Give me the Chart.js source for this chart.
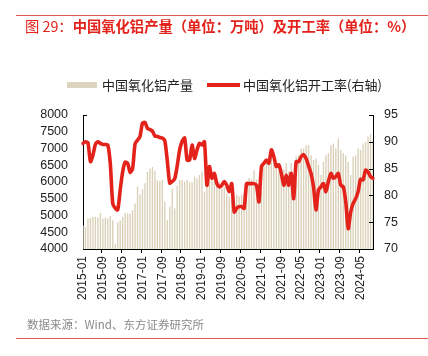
<!DOCTYPE html>
<html><head><meta charset="utf-8">
<script src="https://cdn.jsdelivr.net/npm/chart.js@4"></script>
<style>
html,body{margin:0;padding:0;background:#fff;}
#wrap{position:relative;width:428px;height:356px;overflow:hidden;font-family:"Noto Sans CJK SC","Liberation Sans",Arial,sans-serif;}
canvas{position:absolute;left:0;top:0;}
.hline{position:absolute;left:16px;width:412px;height:1px;background:#E55A50;}
#title{position:absolute;left:25px;top:17px;font-size:14.3px;line-height:18px;color:#E3231B;white-space:nowrap;font-weight:bold;}
#title .p{font-weight:normal;}
#legend{position:absolute;top:76px;left:0;width:428px;height:18px;font-size:13px;line-height:18px;color:#222;white-space:nowrap;}
#legend .box{position:absolute;left:67px;top:6px;width:30px;height:6px;background:#DDD4BF;}
#legend .t1{position:absolute;left:102px;top:0;}
#legend .ln{position:absolute;left:207px;top:7px;width:33px;height:4px;background:#E3231B;}
#legend .t2{position:absolute;left:243px;top:0;}
#src{position:absolute;left:27px;top:316px;font-size:11.5px;color:#8a8a8a;white-space:nowrap;}
</style></head>
<body>
<div id="wrap">
<canvas id="c" width="428" height="356"></canvas>
<div class="hline" style="top:15px"></div>
<div id="title"><span class="p">图 29：</span>中国氧化铝产量（单位：万吨）及开工率（单位：%）</div>
<div id="legend"><div class="box"></div><span class="t1">中国氧化铝产量</span><div class="ln"></div><span class="t2">中国氧化铝开工率(右轴)</span></div>
<div id="src">数据来源：Wind、东方证券研究所</div>
<div class="hline" style="top:338px"></div>
</div>
<script>
const months = [
"2015-01","2015-02","2015-03","2015-04","2015-05","2015-06","2015-07","2015-08","2015-09","2015-10","2015-11","2015-12",
"2016-01","2016-02","2016-03","2016-04","2016-05","2016-06","2016-07","2016-08","2016-09","2016-10","2016-11","2016-12",
"2017-01","2017-02","2017-03","2017-04","2017-05","2017-06","2017-07","2017-08","2017-09","2017-10","2017-11","2017-12",
"2018-01","2018-02","2018-03","2018-04","2018-05","2018-06","2018-07","2018-08","2018-09","2018-10","2018-11","2018-12",
"2019-01","2019-02","2019-03","2019-04","2019-05","2019-06","2019-07","2019-08","2019-09","2019-10","2019-11","2019-12",
"2020-01","2020-02","2020-03","2020-04","2020-05","2020-06","2020-07","2020-08","2020-09","2020-10","2020-11","2020-12",
"2021-01","2021-02","2021-03","2021-04","2021-05","2021-06","2021-07","2021-08","2021-09","2021-10","2021-11","2021-12",
"2022-01","2022-02","2022-03","2022-04","2022-05","2022-06","2022-07","2022-08","2022-09","2022-10","2022-11","2022-12",
"2023-01","2023-02","2023-03","2023-04","2023-05","2023-06","2023-07","2023-08","2023-09","2023-10","2023-11","2023-12",
"2024-01","2024-02","2024-03","2024-04","2024-05","2024-06","2024-07","2024-08","2024-09","2024-10"
];
const tickLabels = ["2015-01","2015-09","2016-05","2017-01","2017-09","2018-05","2019-01","2019-09","2020-05","2021-01","2021-09","2022-05","2023-01","2023-09","2024-05"];
const production = [
4700,4660,4910,4930,4960,4960,4930,5080,4910,4930,4910,4990,
4860,4160,4790,4860,4960,5060,5060,5060,5160,5360,5860,5630,
5790,5960,6300,6400,6450,6320,6060,6030,6060,5410,4860,5260,
5810,5210,5890,6060,6060,6010,6060,5990,5990,6160,6110,6210,
6310,5710,5860,6360,6210,6260,5960,6010,5810,5860,5660,5570,
5470,5420,5620,5570,5620,5670,5820,6120,6070,6350,6070,5370,
5720,6470,6570,6670,6870,6570,6520,6320,6270,6370,6570,6320,
6570,6170,6760,6810,7000,7000,7100,7100,6800,6660,6700,6510,
6210,6600,6800,6860,7100,7150,7000,7300,6960,6860,6800,6600,
6210,6760,6800,7000,6960,7150,7200,7360,7430,7250
];
const utilization = [
89.7,90.0,89.8,86.3,87.5,89.5,90.0,89.7,89.5,89.5,89.4,86.0,
78.5,77.6,77.3,81.0,84.4,86.2,86.0,84.3,85.0,89.6,90.3,91.0,
93.5,93.6,92.5,92.3,92.0,91.1,91.0,90.8,90.7,90.2,86.5,82.3,
82.6,83.1,85.5,88.5,90.1,90.7,86.6,86.6,89.4,86.9,88.5,89.7,
89.4,90.0,81.9,85.4,83.2,84.1,82.2,81.6,81.9,82.6,81.9,80.7,
82.2,76.9,77.6,77.9,77.9,77.6,82.2,82.2,82.2,82.2,81.9,78.8,
85.4,86.0,86.6,86.0,88.5,87.2,85.4,85.7,84.1,81.9,83.8,81.9,
84.1,79.4,86.3,86.3,87.2,87.6,86.9,85.5,84.1,81.6,77.3,81.0,
81.6,82.2,80.7,82.6,84.1,83.2,83.5,84.1,81.9,81.6,78.8,73.8,
76.9,78.5,79.4,80.7,83.0,82.9,84.7,84.4,83.5,83.2
];
const leftTicks = {min:4000, max:8000, step:500};
const rightTicks = {min:70, max:95, step:5};

const axisTicks = {
  id:'axisTicks',
  afterDraw(chart){
    const ctx = chart.ctx;
    ctx.save();
    ctx.strokeStyle = '#000';
    ctx.lineWidth = 1;
    const yl = chart.scales.y;
    const yt = Math.round(yl.getPixelForValue(leftTicks.max)) + 0.5;
    ctx.beginPath(); ctx.moveTo(yl.right, yt); ctx.lineTo(yl.right + 4, yt); ctx.stroke();
    const yr = chart.scales.y1;
    yr.ticks.forEach(t => {
      const y = Math.round(yr.getPixelForValue(t.value)) + 0.5;
      ctx.beginPath(); ctx.moveTo(yr.left, y); ctx.lineTo(yr.left - 4, y); ctx.stroke();
    });
    ctx.restore();
  }
};

const tickFont = {family:'"Liberation Sans", Arial, sans-serif', size:12.5};
new Chart(document.getElementById('c'), {
  data: {
    labels: months,
    datasets: [
      {type:'line', label:'中国氧化铝开工率(右轴)', data: utilization, yAxisID:'y1', borderColor:'#E3231B', borderWidth:3.6, pointRadius:0, tension:0.25, borderJoinStyle:'round', borderCapStyle:'round', order:0},
      {type:'bar', label:'中国氧化铝产量', data: production, yAxisID:'y', backgroundColor:'#DAD0B8', barPercentage:0.55, categoryPercentage:1.0, order:1}
    ]
  },
  options: {
    responsive:false, animation:false, devicePixelRatio:1,
    layout:{padding:{left:0,right:0,top:115,bottom:0}},
    plugins:{legend:{display:false}, tooltip:{enabled:false}},
    scales:{
      x:{
        offset:false,
        border:{display:true,color:'#000',width:1},
        grid:{drawOnChartArea:false, drawTicks:true, tickLength:4,
          color:(ctx)=> (ctx.tick && tickLabels.includes(ctx.tick.label)) ? '#000' : 'rgba(0,0,0,0)'},
        ticks:{autoSkip:false, minRotation:90, maxRotation:90, padding:3, color:'#222',
          font:{family:'"Liberation Sans", Arial, sans-serif', size:12},
          callback:function(v,i){ const l = months[i]; return tickLabels.includes(l) ? l : ''; }},
        afterFit(s){ s.height = 107; }
      },
      y:{
        position:'left', min:leftTicks.min, max:leftTicks.max,
        border:{display:true,color:'#000',width:1},
        grid:{display:true, drawOnChartArea:false, drawTicks:false},
        ticks:{stepSize:leftTicks.step, autoSkip:false, padding:15, color:'#222', font:tickFont,
          callback:(v)=>String(v)},
        afterFit(s){ s.width = 83; }
      },
      y1:{
        position:'right', min:rightTicks.min, max:rightTicks.max,
        border:{display:true,color:'#000',width:1},
        grid:{display:true, drawOnChartArea:false, drawTicks:false},
        ticks:{stepSize:rightTicks.step, autoSkip:false, padding:11, color:'#222', font:tickFont,
          callback:(v)=>String(v)},
        afterFit(s){ s.width = 55; }
      }
    }
  },
  plugins:[axisTicks]
});
</script>
</body></html>
